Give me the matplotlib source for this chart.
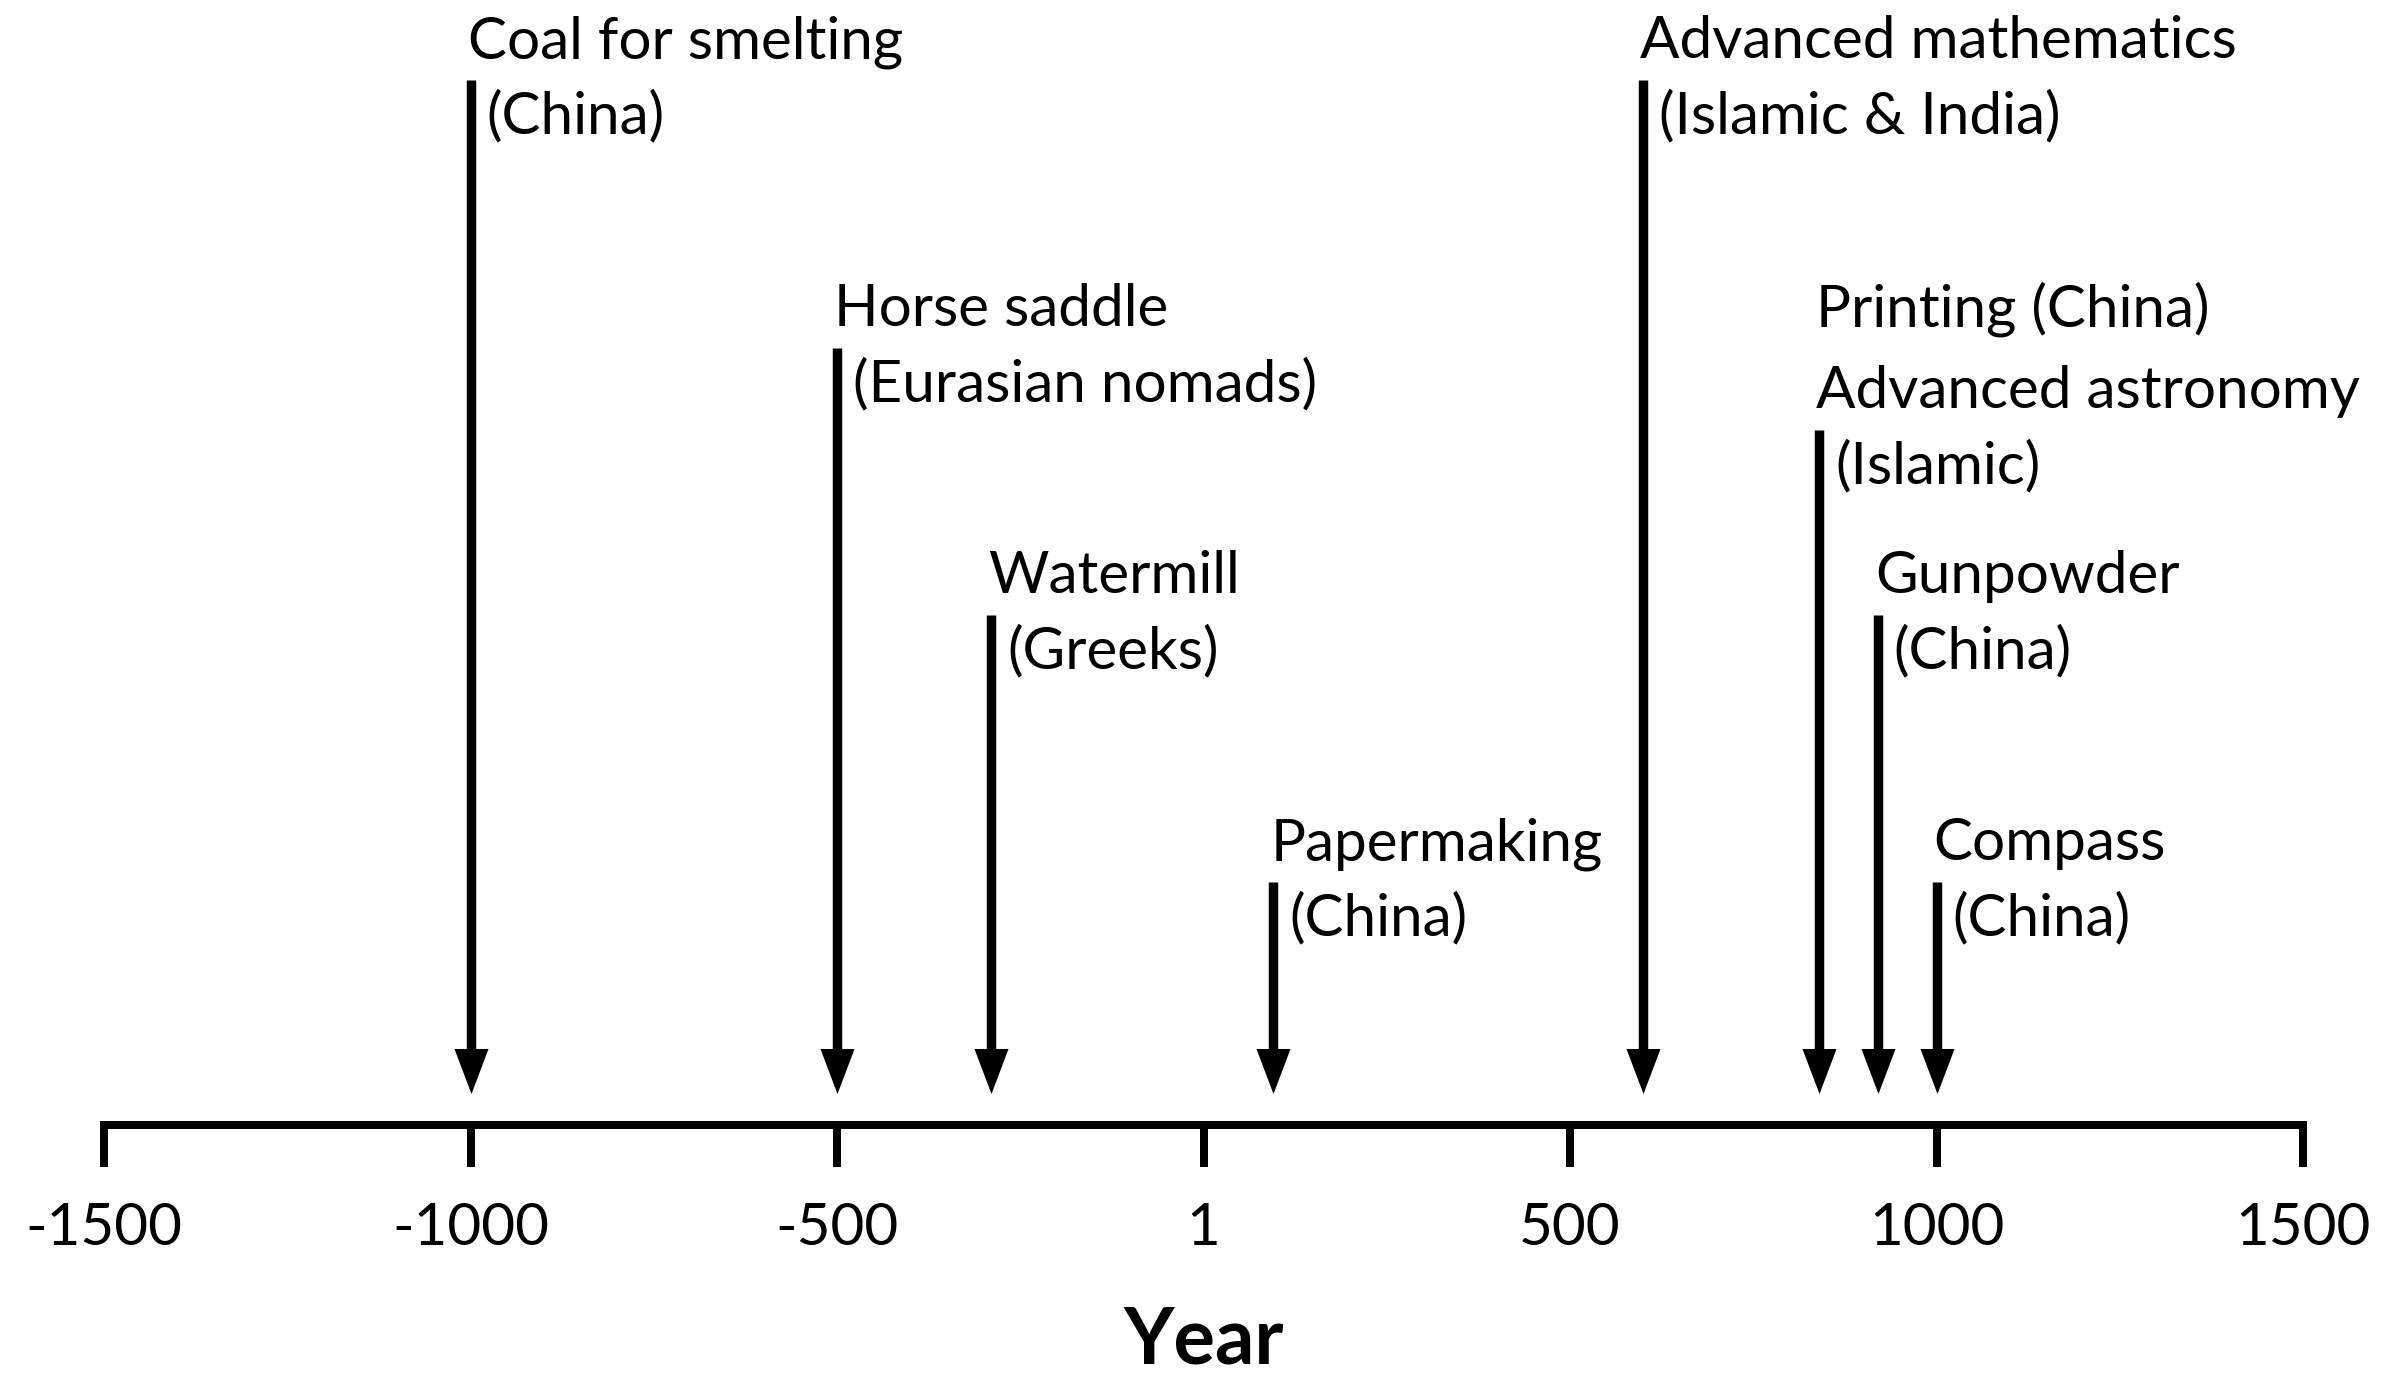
import matplotlib.pyplot as plt
from matplotlib.path import Path

plt.rcParams['font.family'] = ['Lato', 'DejaVu Sans']

years = [-1000, -500, -290, 95, 600, 840, 920, 1000]
titles = [["Coal for smelting"], ["Horse saddle"], ["Watermill"], ["Papermaking"],
          ["Advanced mathematics"], ["Printing (China)", "Advanced astronomy"],
          ["Gunpowder"], ["Compass"]]
origins = ["(China)", "(Eurasian nomads)", "(Greeks)", "(China)",
           "(Islamic & India)", "(Islamic)", "(China)", "(China)"]
tick_years = [-1500, -1000, -500, 0, 500, 1000, 1500]
tick_labels = ["-1500", "-1000", "-500", "1", "500", "1000", "1500"]

# layout: top of each arrow, in pixels from the top of the picture
arrow_top = [80, 348, 615, 882, 80, 430, 615, 882]

W, H = 2394, 1382
fig = plt.figure(figsize=(W / 100, H / 100), dpi=100)
ax = fig.add_axes([0, 0, 1, 1])
ppy = (2303 - 104) / 3000
ax.set_xlim(-1500 - 104 / ppy, 1500 + (W - 2303) / ppy)
ax.set_ylim(H, 0)
ax.axis('off')

axis_y = 1125
tick_end = 1167
lw_axis = 8 * 0.72

ax.plot([-1500, -1500, 1500, 1500], [tick_end, axis_y, axis_y, tick_end],
        color='black', lw=lw_axis, solid_joinstyle='miter', solid_capstyle='butt')
ax.vlines(tick_years[1:-1], axis_y, tick_end, color='black', lw=lw_axis)
for t, lab in zip(tick_years, tick_labels):
    ax.text(t, 1245, lab, ha='center', va='baseline', fontsize=42)

ax.text(0, 1364, "Year", ha='center', va='baseline', fontsize=56, fontweight='bold')

tip_y = 1093
head_len = 45
head = Path([(-17, 22.5), (17, 22.5), (0, -22.5), (-17, 22.5)],
            [Path.MOVETO, Path.LINETO, Path.LINETO, Path.CLOSEPOLY])

for yr, top, tl, org in zip(years, arrow_top, titles, origins):
    ax.vlines(yr, top, tip_y - head_len + 3, color='black', lw=6.8)
    ax.plot(yr, tip_y - head_len / 2, marker=head, markersize=head_len * 0.72,
            color='black', markeredgewidth=0)
    ax.annotate(org, xy=(yr, top + 53), xytext=(16, 0), textcoords='offset pixels',
                ha='left', va='baseline', fontsize=42)
    base = top - 22
    for i, line in enumerate(reversed(tl)):
        ax.annotate(line, xy=(yr, base - i * 82), xytext=(-3, 0), textcoords='offset pixels',
                    ha='left', va='baseline', fontsize=42)

fig.savefig("out.png", dpi=100)
